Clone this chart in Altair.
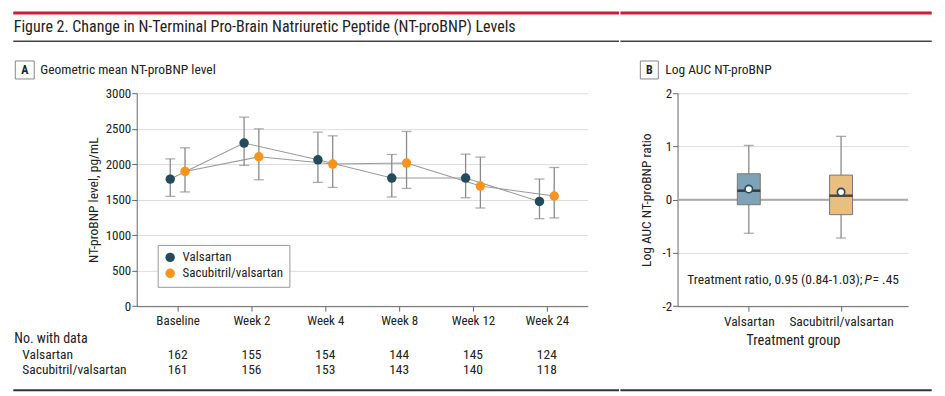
import json
import altair as alt
import pandas as pd

# ---------------- data ----------------
weeks = ["Baseline", "Week 2", "Week 4", "Week 8", "Week 12", "Week 24"]
series_names = ["Valsartan", "Sacubitril/valsartan"]
series_colors = ["#234b5b", "#f7941d"]

val_mean = [1790, 2298, 2062, 1805, 1805, 1476]
val_lo = [1548, 1983, 1744, 1538, 1528, 1233]
val_hi = [2076, 2663, 2452, 2137, 2142, 1791]
sac_mean = [1898, 2105, 2002, 2016, 1692, 1552]
sac_lo = [1609, 1781, 1673, 1659, 1383, 1243]
sac_hi = [2231, 2498, 2400, 2461, 2100, 1954]
val_n = [162, 155, 154, 144, 145, 124]
sac_n = [161, 156, 153, 143, 140, 118]

groups = ["Valsartan", "Sacubitril/valsartan"]
group_colors = ["#7fa3b6", "#e9bf80"]
box_q1 = [-0.094, -0.281]
box_med = [0.169, 0.075]
box_q3 = [0.487, 0.462]
box_wlo = [-0.63, -0.72]
box_whi = [1.02, 1.19]
box_mean = [0.20, 0.144]

yA_ticks = [0, 500, 1000, 1500, 2000, 2500, 3000]
yB_ticks = [-2, -1, 0, 1, 2]

FONT = "Roboto Condensed, Noto Sans Condensed, Liberation Sans Narrow, DejaVu Sans Condensed, sans-serif"
TXT = "#222222"
AX = "#666666"
GRID = "#dddddd"

# ---------------- tables ----------------
rows = []
for i, w in enumerate(weeks):
    rows.append(dict(idx=i, xpos=i - 0.1, series=series_names[0], mean=val_mean[i],
                     lo=val_lo[i], hi=val_hi[i], n=val_n[i]))
    rows.append(dict(idx=i, xpos=i + 0.1, series=series_names[1], mean=sac_mean[i],
                     lo=sac_lo[i], hi=sac_hi[i], n=sac_n[i]))
dfA = pd.DataFrame(rows)

dfB = pd.DataFrame(dict(pos=[0, 1], grp=groups, q1=box_q1, med=box_med, q3=box_q3,
                        wlo=box_wlo, whi=box_whi, mean=box_mean))
one = pd.DataFrame({"k": [0]})

WA, HA = 452, 213.4
WB, HB = 231, 213.4
LEFT_A, LEFT_B, TOP = 136.7, 677.3, 93.3

week_expr = json.dumps(weeks) + "[datum.value]"
grp_expr = json.dumps(groups) + "[datum.value]"
num_expr = "'' + datum.value"

xA_scale = alt.Scale(domain=[-0.554, 5.554], nice=False, zero=False)
axXA = alt.Axis(values=list(range(len(weeks))), labelExpr=week_expr, title=None,
                grid=False, domainColor=AX, tickColor=AX, tickSize=5,
                labelFontSize=13, labelPadding=3, labelColor=TXT)
yA_scale = alt.Scale(domain=[0, 3000], nice=False)
axYA = alt.Axis(values=yA_ticks, grid=True, gridColor=GRID, labelExpr=num_expr,
                labelOverlap=False,
                domainColor=AX, tickColor=AX, tickSize=5, labelPadding=1,
                labelFontSize=13, labelColor=TXT,
                title="NT-proBNP level, pg/mL", titleFontSize=13.5,
                titleFontWeight="normal", titleColor=TXT, titlePadding=5)


def XA(field):
    return alt.X(field, scale=xA_scale, axis=axXA)


def YA(field):
    return alt.Y(field, scale=yA_scale, axis=axYA)


baseA = alt.Chart(dfA)

linesA = baseA.mark_line(color="#9a9a9a", strokeWidth=1.1).encode(
    x=XA("xpos:Q"), y=YA("mean:Q"), detail="series:N")
errA = baseA.mark_rule(color="#8a8a8a", strokeWidth=1.3).encode(
    x=XA("xpos:Q"), y=YA("lo:Q"), y2="hi:Q")
capLoA = baseA.mark_tick(orient="horizontal", size=10, thickness=1.3, color="#8a8a8a").encode(
    x=XA("xpos:Q"), y=YA("lo:Q"))
capHiA = baseA.mark_tick(orient="horizontal", size=10, thickness=1.3, color="#8a8a8a").encode(
    x=XA("xpos:Q"), y=YA("hi:Q"))
ptsA = baseA.mark_circle(size=90, opacity=1).encode(
    x=XA("xpos:Q"), y=YA("mean:Q"),
    color=alt.Color("series:N", scale=alt.Scale(domain=series_names, range=series_colors),
                    legend=alt.Legend(title=None, orient="none", legendX=21, legendY=152,
                                      direction="vertical", fillColor="white",
                                      strokeColor="#999999", padding=6, symbolType="circle",
                                      symbolSize=90, symbolStrokeWidth=0, labelFont=FONT,
                                      labelFontSize=13, labelColor=TXT, labelOffset=6,
                                      rowPadding=2)))

# table below panel A
nValA = baseA.transform_filter(alt.datum.series == series_names[0]).mark_text(
    font=FONT, fontSize=13.5, color=TXT, baseline="middle").encode(
    x=XA("idx:Q"), y=alt.value(262.4), text="n:Q")
nSacA = baseA.transform_filter(alt.datum.series == series_names[1]).mark_text(
    font=FONT, fontSize=13.5, color=TXT, baseline="middle").encode(
    x=XA("idx:Q"), y=alt.value(277.4), text="n:Q")


def label(text, x, y, size=13, weight="normal", align="left", baseline="middle", style="normal"):
    return alt.Chart(one).mark_text(font=FONT, fontSize=size, fontWeight=weight, align=align,
                                    baseline=baseline, color=TXT, fontStyle=style).encode(
        x=alt.value(x), y=alt.value(y), text=alt.value(text))


def band(x1, x2, y1, y2, color, stroke=None):
    kw = dict(color=color)
    if stroke:
        kw.update(stroke=stroke, strokeWidth=1)
    return alt.Chart(one).mark_rect(**kw).encode(
        x=alt.value(x1), x2=alt.value(x2), y=alt.value(y1), y2=alt.value(y2))


RED = "#cc1f36"
splitA = 620 - LEFT_A
leftA = 13 - LEFT_A
decoA = [
    band(leftA, splitA, 11.3 - TOP, 14.3 - TOP, RED),
    label("Figure 2. Change in N-Terminal Pro-Brain Natriuretic Peptide (NT-proBNP) Levels",
          13.5 - LEFT_A, 32 - TOP, size=16, baseline="alphabetic"),
    band(leftA, splitA, 40.5 - TOP, 42 - TOP, "#444444"),
    band(15 - LEFT_A, 34 - LEFT_A, 61 - TOP, 79 - TOP, "white", stroke="#888888"),
    label("A", 24.5 - LEFT_A, 70 - TOP, size=12, weight="bold", align="center"),
    label("Geometric mean NT-proBNP level", 40 - LEFT_A, 70 - TOP, size=13.5),
    label("No. with data", 14 - LEFT_A, 246.7, size=14),
    label(series_names[0], 22 - LEFT_A, 262.4, size=13.5),
    label(series_names[1], 22 - LEFT_A, 277.4, size=13.5),
    band(leftA, splitA, 390 - TOP, 392 - TOP, "#333333"),
]

panelA = alt.layer(linesA, errA, capLoA, capHiA, ptsA, nValA, nSacA, *decoA).properties(
    width=WA, height=HA)

# ---------------- panel B ----------------
xB_scale = alt.Scale(domain=[-0.718, 1.672], nice=False, zero=False)
axXB = alt.Axis(values=[0, 1], labelExpr=grp_expr, grid=False, domainColor=AX,
                tickColor=AX, tickSize=5, labelPadding=3, labelFontSize=13.5,
                labelColor=TXT, title="Treatment group", titleFontSize=14.5,
                titleFontWeight="normal", titleColor=TXT, titlePadding=6)
yB_scale = alt.Scale(domain=[-2, 2], nice=False)
axYB = alt.Axis(values=yB_ticks, grid=True, gridColor=GRID, domainColor=AX,
                labelExpr=num_expr, labelOverlap=False,
                tickColor=AX, tickSize=5, labelPadding=1, labelFontSize=13,
                labelColor=TXT, title="Log AUC NT-proBNP ratio", titleFontSize=13.5,
                titleFontWeight="normal", titleColor=TXT, titlePadding=8)


def XB(field):
    return alt.X(field, scale=xB_scale, axis=axXB)


def YB(field):
    return alt.Y(field, scale=yB_scale, axis=axYB)


baseB = alt.Chart(dfB)
zeroB = alt.Chart(one).mark_rule(color="#aaaaaa", strokeWidth=2).encode(y=YB("k:Q"))
whiskB = baseB.mark_rule(color="#8a8a8a", strokeWidth=1.3).encode(
    x=XB("pos:Q"), y=YB("wlo:Q"), y2="whi:Q")
capLoB = baseB.mark_tick(orient="horizontal", size=10, thickness=1.3, color="#8a8a8a").encode(
    x=XB("pos:Q"), y=YB("wlo:Q"))
capHiB = baseB.mark_tick(orient="horizontal", size=10, thickness=1.3, color="#8a8a8a").encode(
    x=XB("pos:Q"), y=YB("whi:Q"))
boxB = baseB.mark_bar(size=23, orient="vertical", stroke="#777777", strokeWidth=1).encode(
    x=XB("pos:Q"), y=YB("q1:Q"), y2="q3:Q",
    color=alt.Color("grp:N", scale=alt.Scale(domain=groups, range=group_colors), legend=None))
medB = baseB.mark_tick(orient="horizontal", size=23, thickness=2.5, color="#111111").encode(
    x=XB("pos:Q"), y=YB("med:Q"))
meanB = baseB.mark_point(filled=True, fill="white", stroke="#2b4a5a", strokeWidth=1.6,
                         size=55, opacity=1).encode(
    x=XB("pos:Q"), y=YB("mean:Q"))

annot_parts = pd.DataFrame({"x": [1.255], "y": [-1.5]})
annot1 = alt.Chart(annot_parts).mark_text(font=FONT, fontSize=13.5, color=TXT, align="right",
                                          baseline="middle", dx=-2).encode(
    x=XB("x:Q"), y=YB("y:Q"), text=alt.value("Treatment ratio, 0.95 (0.84-1.03);"))
annot2 = alt.Chart(annot_parts).mark_text(font=FONT, fontSize=13.5, color=TXT, align="left",
                                          baseline="middle", fontStyle="italic").encode(
    x=XB("x:Q"), y=YB("y:Q"), text=alt.value("P"))
annot3 = alt.Chart(annot_parts).mark_text(font=FONT, fontSize=13.5, color=TXT, align="left",
                                          baseline="middle", dx=8).encode(
    x=XB("x:Q"), y=YB("y:Q"), text=alt.value("= .45"))

splitB = 620 - LEFT_B
rightB = 932 - LEFT_B
decoB = [
    band(splitB, rightB, 11.3 - TOP, 14.3 - TOP, RED),
    band(splitB, rightB, 40.5 - TOP, 42 - TOP, "#444444"),
    band(640 - LEFT_B, 658 - LEFT_B, 61 - TOP, 79 - TOP, "white", stroke="#888888"),
    label("B", 649 - LEFT_B, 70 - TOP, size=12, weight="bold", align="center"),
    label("Log AUC NT-proBNP", 665 - LEFT_B, 70 - TOP, size=13.5),
    band(splitB, rightB, 390 - TOP, 392 - TOP, "#333333"),
]

panelB = alt.layer(zeroB, whiskB, capLoB, capHiB, boxB, medB, meanB,
                   annot1, annot2, annot3, *decoB).properties(width=WB, height=HB)

chart = alt.hconcat(panelA, panelB, spacing=0).resolve_scale(
    color="independent"
).properties(
    padding={"left": 5, "top": 3, "right": 5, "bottom": 3},
    background="white",
).configure_view(strokeWidth=0).configure_axis(
    labelFont=FONT, titleFont=FONT
)

chart.save("out.html", embed_options={"renderer": "svg", "actions": False})
